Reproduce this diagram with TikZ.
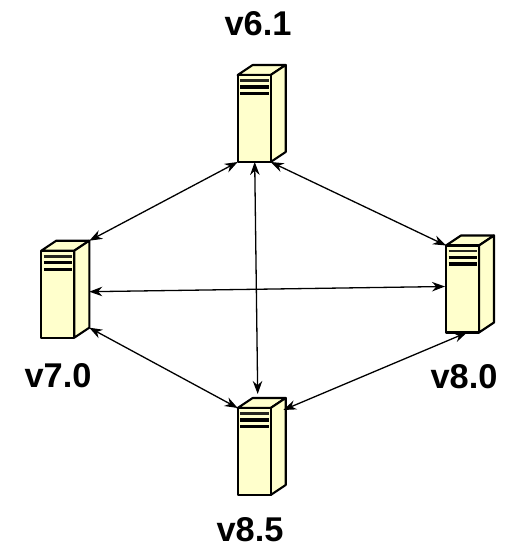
\documentclass[tikz,border=0pt]{standalone}
\usepackage{fontspec}
\setmainfont{Liberation Sans}
\usetikzlibrary{arrows.meta}
\definecolor{srv}{RGB}{255,255,204}
\tikzset{
  x=1bp,y=-1bp,
  face/.style={fill=srv,draw=black,line width=2.1bp,line join=round},
  bar/.style={draw=black!85!srv,line width=2.6bp},
  darkbar/.style={draw=black,line width=3.2bp},
  link/.style={draw=black,line width=1.3bp,{Stealth[length=13bp,width=9.5bp]}-{Stealth[length=13bp,width=9.5bp]}},
  lab/.style={font=\bfseries\fontsize{34.5}{40}\selectfont,text=black,inner sep=0pt,anchor=base}
}
\newcommand{\serverpic}[3]{% name, x, y of front top-left
  \begin{scope}[shift={(#2,#3)}]
    \draw[face] (0,0) -- (15,-10) -- (48,-10) -- (33,0) -- cycle;
    \draw[face] (33,0) -- (48,-10) -- (48,77) -- (33,87) -- cycle;
    \draw[face] (0,0) rectangle (33,87);
    \draw[bar] (2.5,5.5) -- (31,5.5);
    \draw[darkbar] (2.5,12) -- (31,12);
    \draw[darkbar] (2.5,18.5) -- (31,18.5);
    \coordinate (#1fl) at (0,87);
    \coordinate (#1fr) at (33,87);
    \coordinate (#1tl) at (0,0);
    \coordinate (#1br) at (48,77);
    \coordinate (#1tr) at (48,-10);
    \coordinate (#1rm) at (48,41);
    \coordinate (#1lm) at (-1,41);
    \coordinate (#1bm) at (17,87);
    \coordinate (#1bn) at (21,87);
    \coordinate (#1tm) at (20,-14);
    \coordinate (#1rp) at (45.6,2);
  \end{scope}
}
\begin{document}
\begin{tikzpicture}
\useasboundingbox (0,0) rectangle (505,547);
\serverpic{a}{237.7}{75}
\serverpic{b}{41.3}{250.7}
\serverpic{c}{446}{245.5}
\serverpic{d}{237.7}{408}
\draw[link] (afl) -- (btr);
\draw[link] (afr) -- (ctl);
\draw[link] (abm) -- (dtm);
\draw[link] (brm) -- (clm);
\draw[link] (bbr) -- (dtl);
\draw[link] (cbn) -- (drp);
\node[lab] (la) at (258,36) {v6.1};
\node[lab] (lb) at (58,387) {v7.0};
\node[lab] (lc) at (464,388) {v8.0};
\node[lab] (ld) at (250,541) {v8.5};
\end{tikzpicture}
\end{document}
